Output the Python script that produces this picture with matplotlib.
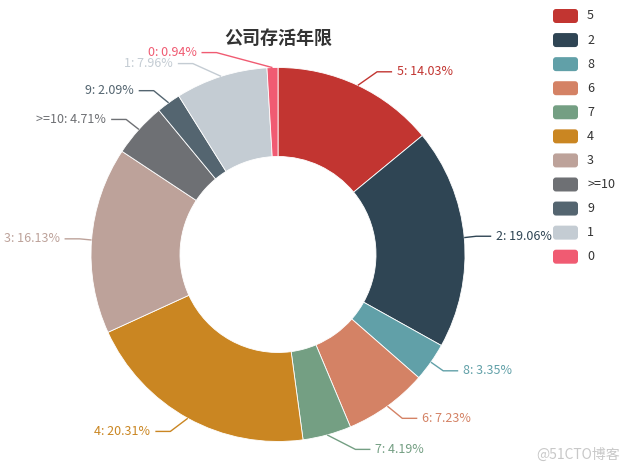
import numpy as np
import matplotlib.pyplot as plt
from matplotlib.patches import FancyBboxPatch

plt.rcParams['font.family'] = ['Noto Sans CJK SC', 'DejaVu Sans']

# dados do gráfico
titulo = '公司存活年限'
categorias = ['5', '2', '8', '6', '7', '4', '3', '>=10', '9', '1', '0']
percentuais = [14.03, 19.06, 3.35, 7.23, 4.19, 20.31, 16.13, 4.71, 2.09, 7.96, 0.94]
cores = ['#c23531', '#2f4554', '#61a0a8', '#d48265', '#749f83', '#ca8622',
         '#bda29a', '#6e7074', '#546570', '#c4ccd3', '#f05b72']

W, H = 632, 473
cx, cy = 278, 254.5          # centro em pixels (y para baixo)
r_ext, r_int = 187, 98
len1, len2 = 15, 15
alt_label = 11

fig = plt.figure(figsize=(W / 100, H / 100), dpi=100)
ax = fig.add_axes([0, 0, 1, 1])

wedges, _ = ax.pie(percentuais, colors=cores, startangle=90, counterclock=False,
                   center=(cx, H - cy), radius=r_ext,
                   wedgeprops=dict(width=r_ext - r_int, edgecolor='white', linewidth=0.6))
ax.set_xlim(0, W)
ax.set_ylim(0, H)
ax.set_aspect('equal')
ax.axis('off')

# posições dos rótulos (layout parecido com o do echarts)
labels = []
for w, cat, p, cor in zip(wedges, categorias, percentuais, cores):
    ang = np.deg2rad((w.theta1 + w.theta2) / 2)
    dx, dy = np.cos(ang), -np.sin(ang)   # dy em pixels para baixo
    x1, y1 = cx + r_ext * dx, cy + r_ext * dy
    y = cy + (r_ext + len1) * dy
    labels.append(dict(x1=x1, y1=y1, y=y, dir=1 if dx >= 0 else -1,
                       txt=f'{cat}: {p:.2f}%', cor=cor))

for lado in (1, -1):
    lista = sorted([l for l in labels if l['dir'] == lado], key=lambda l: l['y'])
    ultimo = 0
    for i, l in enumerate(lista):
        delta = l['y'] - ultimo
        if delta < 0:
            for j in range(i, len(lista)):
                lista[j]['y'] -= delta
                if j + 1 < len(lista) and lista[j + 1]['y'] > lista[j]['y'] + alt_label:
                    break
        ultimo = l['y'] + alt_label
    for l in lista:
        d = abs(l['y'] - cy)
        R = r_ext + len1 + len2
        l['x'] = cx + lado * np.sqrt(max(R * R - d * d, 0))

for l in labels:
    x3 = l['x'] - 3 * l['dir']
    x2 = x3 - len2 * l['dir']
    ax.plot([l['x1'], x2, x3], [H - l['y1'], H - l['y'], H - l['y']],
            color=l['cor'], linewidth=1, solid_capstyle='butt')
    ax.text(l['x'] + 2 * l['dir'], H - l['y'], l['txt'], color=l['cor'], fontsize=9,
            ha='left' if l['dir'] > 0 else 'right', va='center')

# título
ax.text(cx, H - 38, titulo, fontsize=13, fontweight='bold', color='#333333',
        ha='center', va='center')

# legenda
for i, (cat, cor) in enumerate(zip(categorias, cores)):
    yc = H - (16 + i * 24.07)
    ax.add_patch(FancyBboxPatch((553, yc - 7), 25, 14,
                                boxstyle='round,pad=0,rounding_size=3',
                                facecolor=cor, edgecolor='none'))
    ax.text(587, yc, cat, fontsize=9, color='#333333', ha='left', va='center')

# marca d'água
ax.text(620, H - 455, '@51CTO博客', fontsize=10, color='#c8c8c8', ha='right', va='center')

plt.savefig('out.png', dpi=100)
